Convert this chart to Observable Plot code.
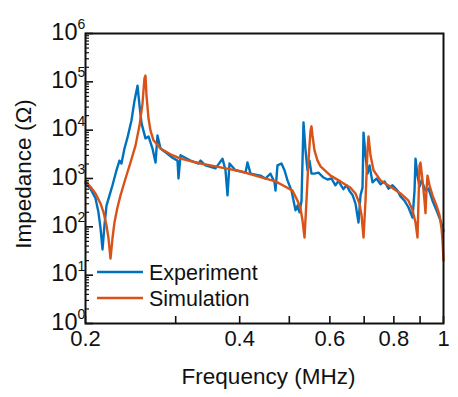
<!DOCTYPE html>
<html><head><meta charset="utf-8">
<script src="https://cdn.jsdelivr.net/npm/d3@7"></script>
<script src="https://cdn.jsdelivr.net/npm/@observablehq/plot@0.6"></script>
<style>
html,body{margin:0;padding:0;background:#fff;}
#wrap{position:relative;width:458px;height:397px;font-family:"Liberation Sans",Arial,sans-serif;}
#legend{position:absolute;left:0;top:0;pointer-events:none;}
</style></head>
<body><div id="wrap"></div>
<script>
// Frequency in MHz, impedance in ohms
const freqExp = [0.200,0.2045,0.2092,0.2120,0.2140,0.2159,0.2178,0.2198,0.2228,0.2258,0.2299,0.2330,0.2351,0.2383,0.2416,0.2459,0.2493,0.2527,0.2550,0.2573,0.2619,0.2655,0.2703,0.2740,0.2764,0.2802,0.2866,0.2957,0.3025,0.3038,0.3066,0.3206,0.3324,0.3354,0.3430,0.3588,0.3703,0.3753,0.3787,0.3821,0.3925,0.4106,0.4143,0.4200,0.4392,0.4492,0.4594,0.4678,0.4699,0.4741,0.4827,0.4893,0.4959,0.5049,0.5141,0.5188,0.5234,0.5282,0.5329,0.5378,0.5426,0.5475,0.5524,0.5599,0.5701,0.5831,0.5936,0.6044,0.6151,0.6238,0.6291,0.6377,0.6466,0.6554,0.6643,0.6733,0.6824,0.6886,0.6948,0.6980,0.7042,0.7106,0.7171,0.7268,0.7400,0.7534,0.7671,0.7810,0.7952,0.8132,0.8242,0.8392,0.8544,0.8700,0.8779,0.8818,0.8897,0.8978,0.9059,0.9223,0.9348,0.9518,0.9691,0.9867,1.000];
const impExp = [794,617,389,200,93,34,107,275,447,724,1479,2344,2042,4169,7079,15850,40740,83180,32360,13800,6761,7413,4169,2138,7762,4169,3467,2692,2344,1000,3020,2344,2042,2344,1862,1622,2570,1479,447,2042,1479,1318,2138,1259,1148,1000,1259,832,562,1862,2042,1479,912,562,219,275,200,347,14450,3802,1479,2344,1259,1259,1318,1047,955,1000,724,891,759,603,724,550,457,302,123,447,646,8913,3020,1259,1862,832,1000,759,871,617,724,562,427,347,251,155,562,2570,1148,676,912,562,617,347,219,135,83];
const freqSim = [0.200,0.2045,0.2092,0.2140,0.2169,0.2198,0.2218,0.2238,0.2258,0.2278,0.2309,0.2341,0.2394,0.2448,0.2504,0.2550,0.2584,0.2607,0.2619,0.2631,0.2655,0.2679,0.2715,0.2802,0.2931,0.3066,0.3354,0.3670,0.4015,0.4392,0.4699,0.4915,0.5072,0.5188,0.5258,0.5306,0.5354,0.5401,0.5450,0.5500,0.5524,0.5549,0.5599,0.5676,0.5753,0.6017,0.6291,0.6581,0.6733,0.6855,0.6917,0.6980,0.7042,0.7106,0.7138,0.7202,0.7300,0.7534,0.7880,0.8242,0.8544,0.8700,0.8818,0.8897,0.8938,0.8978,0.9018,0.9100,0.9181,0.9223,0.9264,0.9306,0.9390,0.9518,0.9691,0.9822,0.9911,0.9956,1.000];
const impSim = [871,676,490,302,200,107,58,22,58,123,251,447,1000,2138,4786,12590,35480,117500,134900,52480,17380,9772,6166,4169,3162,2570,2042,1698,1413,1072,871,676,562,347,240,135,60,347,2344,9772,12020,7762,3802,2344,1778,1148,871,646,490,302,174,60,347,3802,7413,3020,1479,912,676,490,347,219,123,60,347,1862,2138,912,347,191,562,1148,724,447,275,174,93,52,20];

const seriesNames = ["Experiment", "Simulation"];
const seriesColors = ["#0072BD", "#D95319"];
const xTicks = [0.2,0.3,0.4,0.5,0.6,0.7,0.8,0.9,1];
const xLabels = [0.2,0.4,0.6,0.8,1];
const yMajor = [1,10,100,1000,10000,100000,1000000];
const yExponents = ["0","1","2","3","4","5","6"];
const yMinorMultipliers = [2,3,4,5,6,7,8,9];
const xTitle = "Frequency (MHz)";
const yTitle = "Impedance (Ω)";

const yMinor = yMajor.slice(0, -1).flatMap(p => yMinorMultipliers.map(m => m * p));
const exp = freqExp.map((f, i) => ({f, z: impExp[i]}));
const sim = freqSim.map((f, i) => ({f, z: impSim[i]}));
const majors = yMajor.map((v, i) => ({v, e: yExponents[i]}));

const font = "'Liberation Sans', Arial, sans-serif";
const plot = Plot.plot({
  width: 458, height: 397,
  marginLeft: 85, marginRight: 15, marginTop: 33, marginBottom: 74,
  style: {fontFamily: font, fontSize: "21px", color: "#111", background: "#fff", overflow: "visible"},
  x: {type: "log", domain: [0.2, 1], axis: null},
  y: {type: "log", domain: [1, 1e6], axis: null},
  marks: [
    Plot.line(exp, {x: "f", y: "z", stroke: seriesColors[0], strokeWidth: 2.4}),
    Plot.line(sim, {x: "f", y: "z", stroke: seriesColors[1], strokeWidth: 2.4}),
    Plot.frame({stroke: "#111", strokeWidth: 2}),
    Plot.tickX(xTicks, {x: d => d, insetTop: 283, stroke: "#111", strokeWidth: 1.6}),
    Plot.tickY(yMajor, {y: d => d, insetRight: 350, stroke: "#111", strokeWidth: 1.6}),
    Plot.tickY(yMinor, {y: d => d, insetRight: 354, stroke: "#111", strokeWidth: 1.2}),
    Plot.text(xLabels, {x: d => d, frameAnchor: "bottom", lineAnchor: "top", dy: 7, text: d => String(d), fontSize: 22}),
    Plot.text(majors, {y: "v", frameAnchor: "left", textAnchor: "end", dx: -8, dy: -1.5, text: () => "10", fontSize: 23.5}),
    Plot.text(majors, {y: "v", frameAnchor: "left", textAnchor: "start", dx: -8, dy: -9, text: "e", fontSize: 14}),
    Plot.text([xTitle], {frameAnchor: "bottom", lineAnchor: "top", dx: 4, dy: 45, text: d => d, fontSize: 22.5})
  ]
});
const wrap = document.getElementById("wrap");
wrap.appendChild(plot);

// Legend and y-axis title overlay
const ns = "http://www.w3.org/2000/svg";
const leg = document.createElementNS(ns, "svg");
leg.setAttribute("id", "legend");
leg.setAttribute("width", 458); leg.setAttribute("height", 397);
seriesNames.forEach((name, i) => {
  const y = 272 + i * 26;
  const ln = document.createElementNS(ns, "line");
  ln.setAttribute("x1", 97); ln.setAttribute("x2", 143);
  ln.setAttribute("y1", y); ln.setAttribute("y2", y);
  ln.setAttribute("stroke", seriesColors[i]); ln.setAttribute("stroke-width", 2.6);
  leg.appendChild(ln);
  const t = document.createElementNS(ns, "text");
  t.setAttribute("x", 149); t.setAttribute("y", y + 7.5);
  t.setAttribute("font-family", font); t.setAttribute("font-size", 21.5);
  t.setAttribute("fill", "#111");
  t.textContent = name;
  leg.appendChild(t);
});
const yt = document.createElementNS(ns, "text");
yt.setAttribute("transform", "translate(31,174) rotate(-90)");
yt.setAttribute("text-anchor", "middle");
yt.setAttribute("font-family", font); yt.setAttribute("font-size", 22.5);
yt.setAttribute("fill", "#111");
yt.textContent = yTitle;
leg.appendChild(yt);
wrap.appendChild(leg);
</script></body></html>
